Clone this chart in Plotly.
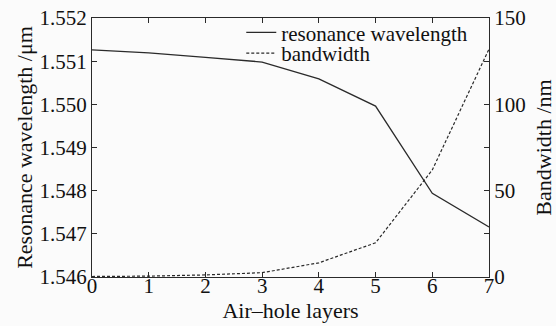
import plotly.graph_objects as go

# Number of air-hole layers
layers = [0, 1, 2, 3, 4, 5, 6, 7]
# Resonance wavelength (μm)
resonance_um = [1.55126, 1.55119, 1.55109, 1.55098, 1.55059, 1.54996, 1.54794, 1.54716]
# Bandwidth (nm)
bandwidth_nm = [0.3, 0.5, 1.2, 2.5, 8.2, 19.8, 62.0, 132.0]

left_ticks = [1.546, 1.547, 1.548, 1.549, 1.550, 1.551, 1.552]
right_ticks = [0, 25, 50, 75, 100, 125, 150]
right_labels = ["0", "", "50", "", "100", "", "150"]

FONT = "'Liberation Serif', 'DejaVu Serif', serif"
INK = "#2a2a2a"

fig = go.Figure()
fig.add_trace(go.Scatter(
    x=layers, y=resonance_um, mode="lines", name="resonance wavelength",
    line=dict(color=INK, width=1.3), yaxis="y", legend="legend"))
fig.add_trace(go.Scatter(
    x=layers, y=bandwidth_nm, mode="lines", name="bandwidth",
    line=dict(color=INK, width=1.2, dash="3px,2px"), yaxis="y2", legend="legend2"))

axis_common = dict(
    showgrid=False, zeroline=False, showline=True, linecolor=INK, linewidth=1.3,
    ticks="inside", ticklen=5, tickwidth=1, tickcolor=INK, automargin=False,
    tickfont=dict(family=FONT, size=21, color="#111"),
)

legend_common = dict(
    xanchor="left", yanchor="top", bgcolor="rgba(0,0,0,0)",
    font=dict(family=FONT, size=21, color="#111"), itemwidth=30,
)

fig.update_layout(
    width=556, height=326,
    margin=dict(l=92, r=67, t=15, b=49),
    paper_bgcolor="#fbfbfb", plot_bgcolor="#fbfbfb",
    font=dict(family=FONT, color="#111"),
    showlegend=True,
    legend=dict(x=0.376, y=1.022, **legend_common),
    legend2=dict(x=0.376, y=0.942, **legend_common),
    xaxis=dict(
        range=[0, 7], tickvals=layers, mirror="ticks", ticklabelstandoff=-10,
        title=dict(text="Air–hole layers", font=dict(family=FONT, size=22), standoff=2),
        **axis_common),
    yaxis=dict(
        range=[1.546, 1.552], tickvals=left_ticks, tickformat=".3f",
        title=dict(text="Resonance wavelength /μm", font=dict(family=FONT, size=22), standoff=0),
        **axis_common),
    yaxis2=dict(
        range=[0, 150], tickvals=right_ticks, ticktext=right_labels,
        overlaying="y", side="right", anchor="x",
        title=dict(text="Bandwidth /nm", font=dict(family=FONT, size=22), standoff=17),
        **axis_common),
)

fig.write_html("out.html")
